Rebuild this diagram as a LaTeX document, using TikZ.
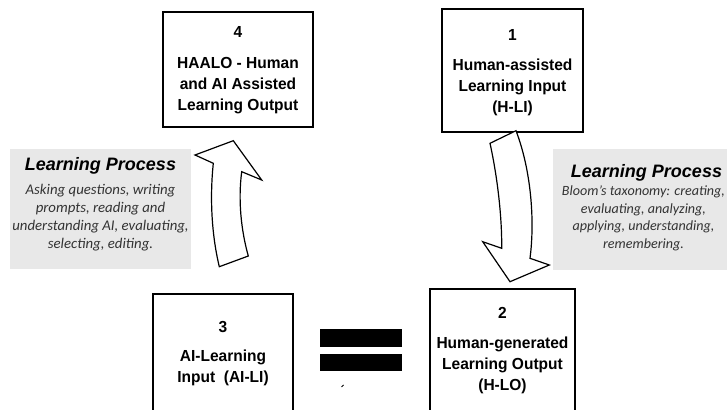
\documentclass[tikz,border=0pt]{standalone}
\usepackage{fontspec}
\setmainfont{Carlito}
\newfontfamily\boxfont[FakeStretch=0.97]{Liberation Sans}
\newfontfamily\titlefont{Liberation Sans}
\usetikzlibrary{positioning}

\tikzset{
  box/.style={draw, line width=1.3pt, inner sep=0pt},
  boxtext/.style={font=\boxfont\fontsize{16}{21}\selectfont\bfseries, align=center, inner sep=0pt, anchor=base},
  graybox/.style={fill=black!9, inner sep=0pt},
  proctitle/.style={font=\titlefont\fontsize{18}{22}\selectfont\bfseries\itshape, inner sep=0pt, anchor=base},
  proctext/.style={font=\fontsize{14.8}{18}\selectfont\itshape, text=black!80, align=center, inner sep=0pt, anchor=base},
  bigarrow/.style={draw, fill=white, line width=1.2pt, line join=miter}
}

\begin{document}
\begin{tikzpicture}[x=1pt, y=-1pt]
        \useasboundingbox (0,0) rectangle (727,409);
        \clip (0,0) rectangle (727,409);

        % Gray panels
        \node[graybox, minimum width=181pt, minimum height=120pt] (lp1) at (100.5,209) {};
        \node[graybox, minimum width=187pt, minimum height=121pt] (lp2) at (646.5,209.5) {};

        % (base of a multi-line text = its last line)
        \node[proctitle] (lp1title) at ([yshift=-21.5pt]lp1.north) {Learning Process};
        \node[proctext] (lp1text) at ([yshift=-100pt]lp1.north) {Asking questions, writing\\prompts, reading and\\understanding AI, evaluating,\\selecting, editing.};

        \node[proctitle] (lp2title) at ([yshift=-29pt]lp2.north) {Learning Process};
        \node[proctext, font=\fontsize{14.1}{17.5}\selectfont\itshape] (lp2text) at ([xshift=-3pt, yshift=-99.5pt]lp2.north) {Bloom's taxonomy: creating,\\evaluating, analyzing,\\applying, understanding,\\remembering.};

        % Boxes
        \node[box, minimum width=150pt, minimum height=115pt] (b4) at (238,69.5) {};
        \node[box, minimum width=141pt, minimum height=123pt] (b1) at (512.5,70.5) {};
        \node[box, minimum width=140pt, minimum height=140pt] (b3) at (223,364) {};
        \node[box, minimum width=145pt, minimum height=140pt] (b2) at (502.5,359) {};

        % Box texts
        \node[boxtext] (n4) at ([yshift=-25.8pt]b4.north) {4};
        \node[boxtext] (t4) at ([yshift=-98.8pt]b4.north) {HAALO - Human\\and AI Assisted\\Learning Output};
        \node[boxtext] (n1) at ([yshift=-31.8pt]b1.north) {1};
        \node[boxtext] (t1) at ([yshift=-103.8pt]b1.north) {Human-assisted\\Learning Input\\(H-LI)};
        \node[boxtext] (n3) at ([yshift=-38.8pt]b3.north) {3};
        \node[boxtext] (t3) at ([yshift=-89pt]b3.north) {AI-Learning\\Input\ \ (AI-LI)};
        \node[boxtext] (n2) at ([yshift=-29.8pt]b2.north) {2};
        \node[boxtext] (t2) at ([yshift=-102.5pt]b2.north) {Human-generated\\Learning Output\\(H-LO)};

        % Curved block arrows
        \draw[bigarrow] (219.3,266.7) .. controls (211,232) and (210,195) .. (213.3,163.3)
            -- (195,155) -- (233.3,140.7) -- (261.7,180) -- (241.7,171.7)
            .. controls (238,200) and (241,230) .. (248.3,256) -- cycle;
        \draw[bigarrow] (490,143.3) -- (516,130.7) .. controls (531,170) and (535,220) .. (530,258.3)
            -- (549.3,265) -- (510,281.7) -- (482.7,241.7) -- (501.7,248.3)
            .. controls (502,215) and (497,175) .. (490,143.3) -- cycle;

        % Equals sign
        \fill (320,329) rectangle (402,347);
        \fill (320,354) rectangle (402,371);
        \draw[line width=1pt] (341.5,387) -- (343.5,385);
\end{tikzpicture}
\end{document}
